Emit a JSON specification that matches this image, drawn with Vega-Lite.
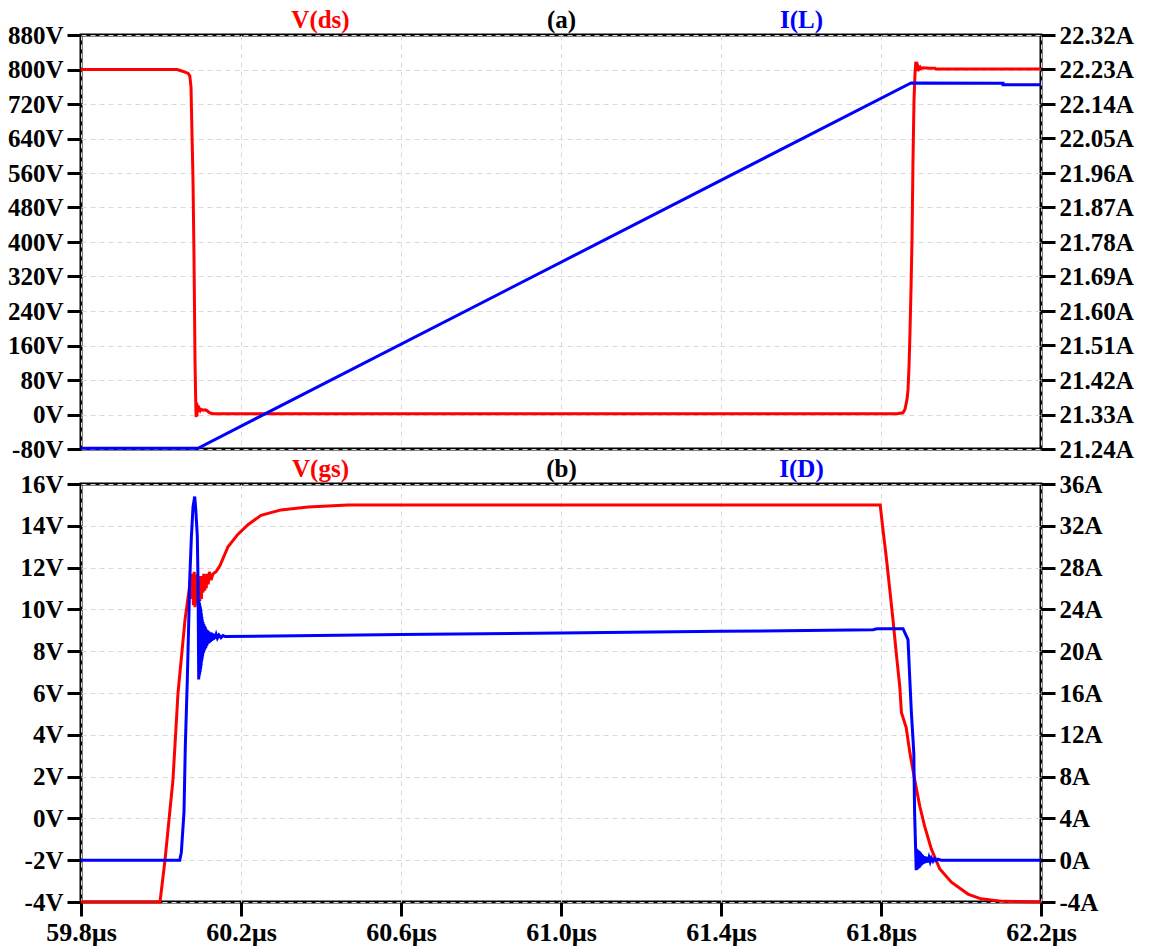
{
  "$schema": "https://vega.github.io/schema/vega-lite/v6.json",
  "padding": {"left": 5, "top": 5, "right": 5, "bottom": 5},
  "background": "white",
  "config": {
    "view": {"stroke": "black", "strokeWidth": 3},
    "font": "Liberation Serif",
    "axis": {
      "labelFont": "Liberation Serif", "labelFontSize": 25, "labelFontWeight": "bold", "labelColor": "black",
      "titleFont": "Liberation Serif", "titleFontSize": 25, "titleFontWeight": "bold",
      "domain": false, "tickColor": "black", "tickWidth": 3, "tickSize": 14, "labelPadding": 4,
      "gridColor": "#d9d9d9", "gridDash": [5, 4], "gridWidth": 1
    },
    "line": {"strokeWidth": 3}
  },
  "datasets": {
    "vds": [
      {"t":59.8,"v":800},{"t":60.04,"v":800},{"t":60.05,"v":797},{"t":60.06,"v":794},{"t":60.068,"v":791},{"t":60.072,"v":785},{"t":60.075,"v":760},{"t":60.0775,"v":650},{"t":60.08,"v":544},{"t":60.0825,"v":365},{"t":60.085,"v":126},{"t":60.0865,"v":45},{"t":60.0875,"v":3},{"t":60.088,"v":-6},{"t":60.0885,"v":20},{"t":60.089,"v":28},{"t":60.0895,"v":8},{"t":60.09,"v":-4},{"t":60.0905,"v":18},{"t":60.091,"v":22},{"t":60.0915,"v":6},{"t":60.092,"v":14},{"t":60.093,"v":9},{"t":60.094,"v":16},{"t":60.095,"v":8},{"t":60.096,"v":13},{"t":60.098,"v":9},{"t":60.1,"v":12},{"t":60.105,"v":10},{"t":60.11,"v":11},{"t":60.115,"v":9},{"t":60.12,"v":5},{"t":60.125,"v":3},{"t":60.13,"v":2},{"t":61.84,"v":2},{"t":61.855,"v":4},{"t":61.86,"v":12},{"t":61.865,"v":35},{"t":61.8675,"v":57},{"t":61.87,"v":110},{"t":61.872,"v":173},{"t":61.875,"v":290},{"t":61.8775,"v":405},{"t":61.88,"v":590},{"t":61.8825,"v":729},{"t":61.885,"v":790},{"t":61.8865,"v":812},{"t":61.8875,"v":818},{"t":61.888,"v":800},{"t":61.8885,"v":814},{"t":61.889,"v":796},{"t":61.8895,"v":810},{"t":61.89,"v":798},{"t":61.891,"v":808},{"t":61.892,"v":800},{"t":61.893,"v":806},{"t":61.895,"v":801},{"t":61.898,"v":805},{"t":61.9,"v":802},{"t":61.905,"v":804},{"t":61.92,"v":803},{"t":61.935,"v":803},{"t":61.937,"v":801},{"t":62.2,"v":801}
    ],
    "il": [
      {"t":59.8,"v":21.242},{"t":60.0925,"v":21.242},{"t":61.875,"v":22.195},{"t":62.105,"v":22.194},{"t":62.105,"v":22.19},{"t":62.2,"v":22.19}
    ],
    "vgs": [
      {"t":59.8,"v":-4},{"t":59.9975,"v":-4},{"t":60.01,"v":-2},{"t":60.03,"v":1.87},{"t":60.0425,"v":6.0},{"t":60.06,"v":9.5},{"t":60.075,"v":11.6},{"t":60.077,"v":10.5},{"t":60.079,"v":11.7},{"t":60.081,"v":10.2},{"t":60.083,"v":11.8},{"t":60.085,"v":10.1},{"t":60.087,"v":11.6},{"t":60.089,"v":10.3},{"t":60.091,"v":11.7},{"t":60.093,"v":10.2},{"t":60.095,"v":11.5},{"t":60.097,"v":10.4},{"t":60.099,"v":11.6},{"t":60.101,"v":10.5},{"t":60.103,"v":11.6},{"t":60.105,"v":10.8},{"t":60.107,"v":11.7},{"t":60.109,"v":10.9},{"t":60.111,"v":11.6},{"t":60.113,"v":11.0},{"t":60.115,"v":11.7},{"t":60.118,"v":11.2},{"t":60.121,"v":11.8},{"t":60.125,"v":11.4},{"t":60.13,"v":11.7},{"t":60.1375,"v":11.8},{"t":60.1475,"v":12.1},{"t":60.1675,"v":13.0},{"t":60.1925,"v":13.6},{"t":60.2175,"v":14.05},{"t":60.25,"v":14.5},{"t":60.3,"v":14.76},{"t":60.3675,"v":14.9},{"t":60.4675,"v":15.0},{"t":61.798,"v":15.0},{"t":61.805,"v":13.8},{"t":61.813,"v":12.53},{"t":61.822,"v":10.94},{"t":61.83,"v":9.5},{"t":61.838,"v":7.93},{"t":61.847,"v":6.3},{"t":61.851,"v":5.07},{"t":61.863,"v":4.35},{"t":61.872,"v":3.16},{"t":61.884,"v":1.87},{"t":61.897,"v":0.58},{"t":61.909,"v":-0.37},{"t":61.926,"v":-1.47},{"t":61.947,"v":-2.42},{"t":61.976,"v":-3.05},{"t":62.0175,"v":-3.62},{"t":62.05,"v":-3.85},{"t":62.105,"v":-3.97},{"t":62.2,"v":-4.0}
    ],
    "id": [
      {"t":59.8,"v":0},{"t":60.0468,"v":0},{"t":60.0508,"v":0.74},{"t":60.0575,"v":4.6},{"t":60.0608,"v":10.9},{"t":60.0658,"v":17.3},{"t":60.0693,"v":22.7},{"t":60.0718,"v":26.8},{"t":60.0758,"v":30.8},{"t":60.08,"v":33.8},{"t":60.0843,"v":34.8},{"t":60.087,"v":33.5},{"t":60.0908,"v":31.0},{"t":60.0925,"v":26.8},{"t":60.0943,"v":17.3},{"t":60.0949,"v":24.9},{"t":60.0955,"v":17.6},{"t":60.0961,"v":24.6},{"t":60.0967,"v":17.8},{"t":60.0973,"v":24.4},{"t":60.0979,"v":18.0},{"t":60.0985,"v":24.2},{"t":60.0991,"v":18.3},{"t":60.0997,"v":24.0},{"t":60.1003,"v":18.6},{"t":60.1009,"v":23.6},{"t":60.1015,"v":19.0},{"t":60.1021,"v":23.3},{"t":60.1027,"v":19.2},{"t":60.1033,"v":23.0},{"t":60.104,"v":19.5},{"t":60.105,"v":22.8},{"t":60.106,"v":19.8},{"t":60.107,"v":22.6},{"t":60.108,"v":20.0},{"t":60.109,"v":22.4},{"t":60.11,"v":20.2},{"t":60.111,"v":22.3},{"t":60.112,"v":20.3},{"t":60.113,"v":22.1},{"t":60.1145,"v":20.5},{"t":60.116,"v":22.0},{"t":60.1175,"v":20.7},{"t":60.119,"v":21.9},{"t":60.1205,"v":20.8},{"t":60.122,"v":21.8},{"t":60.1235,"v":20.9},{"t":60.125,"v":21.8},{"t":60.127,"v":21.0},{"t":60.129,"v":21.7},{"t":60.131,"v":21.1},{"t":60.133,"v":21.65},{"t":60.135,"v":21.2},{"t":60.138,"v":21.6},{"t":60.141,"v":21.25},{"t":60.145,"v":21.55},{"t":60.15,"v":21.3},{"t":60.155,"v":21.5},{"t":60.16,"v":21.4},{"t":60.6,"v":21.6},{"t":61.0,"v":21.75},{"t":61.4,"v":21.9},{"t":61.78,"v":22.05},{"t":61.79,"v":22.15},{"t":61.855,"v":22.15},{"t":61.8675,"v":21.1},{"t":61.872,"v":17.3},{"t":61.876,"v":14.1},{"t":61.882,"v":10.3},{"t":61.884,"v":4.6},{"t":61.888,"v":-0.95},{"t":61.8888,"v":1.1},{"t":61.8896,"v":-0.9},{"t":61.8904,"v":1.0},{"t":61.8912,"v":-0.85},{"t":61.892,"v":0.95},{"t":61.8928,"v":-0.8},{"t":61.8936,"v":0.9},{"t":61.8944,"v":-0.75},{"t":61.8952,"v":0.85},{"t":61.896,"v":-0.7},{"t":61.897,"v":0.8},{"t":61.898,"v":-0.6},{"t":61.899,"v":0.7},{"t":61.9,"v":-0.5},{"t":61.901,"v":0.6},{"t":61.902,"v":-0.45},{"t":61.9035,"v":0.5},{"t":61.905,"v":-0.35},{"t":61.9065,"v":0.4},{"t":61.908,"v":-0.3},{"t":61.91,"v":0.35},{"t":61.912,"v":-0.25},{"t":61.914,"v":0.3},{"t":61.917,"v":-0.2},{"t":61.92,"v":0.25},{"t":61.923,"v":-0.15},{"t":61.926,"v":0.2},{"t":61.93,"v":-0.1},{"t":61.934,"v":0.15},{"t":61.938,"v":-0.05},{"t":61.943,"v":0.1},{"t":61.95,"v":0},{"t":62.2,"v":0}
    ]
  },
  "bounds": "flush",
  "spacing": 35,
  "vconcat": [
    {
      "width": 960,
      "height": 414,
      "layer": [
        {
          "data": {"name": "vds"},
          "mark": {"type": "line", "color": "#ff0000"},
          "encoding": {
            "x": {"field": "t", "type": "quantitative",
              "scale": {"domain": [59.8, 62.2], "nice": false, "zero": false},
              "axis": {"values": [59.8, 60.2, 60.6, 61.0, 61.4, 61.8, 62.2], "labels": false, "ticks": false, "grid": true,
                "title": "(a)", "titleColor": "black", "titleX": 480, "titleY": -422, "titleAngle": 0, "titleAlign": "center", "titleBaseline": "alphabetic"}},
            "y": {"field": "v", "type": "quantitative",
              "scale": {"domain": [-80, 880], "nice": false, "zero": false},
              "axis": {"values": [-80, 0, 80, 160, 240, 320, 400, 480, 560, 640, 720, 800, 880], "labelExpr": "datum.value + 'V'", "grid": true,
                "title": "V(ds)", "titleColor": "#ff0000", "titleX": 239, "titleY": -8, "titleAngle": 0, "titleAlign": "center", "titleBaseline": "alphabetic"}}
          }
        },
        {
          "data": {"name": "il"},
          "mark": {"type": "line", "color": "#0000ff"},
          "encoding": {
            "x": {"field": "t", "type": "quantitative"},
            "y": {"field": "v", "type": "quantitative",
              "scale": {"domain": [21.24, 22.32], "nice": false, "zero": false},
              "axis": {"orient": "right", "values": [21.24, 21.33, 21.42, 21.51, 21.6, 21.69, 21.78, 21.87, 21.96, 22.05, 22.14, 22.23, 22.32], "labelExpr": "format(datum.value, '.2f') + 'A'", "grid": false,
                "title": "I(L)", "titleColor": "#0000ff", "titleX": -240, "titleY": -8, "titleAngle": 0, "titleAlign": "center", "titleBaseline": "alphabetic"}}
          }
        }
      ],
      "resolve": {"scale": {"y": "independent"}}
    },
    {
      "width": 960,
      "height": 418,
      "layer": [
        {
          "data": {"name": "vgs"},
          "mark": {"type": "line", "color": "#ff0000"},
          "encoding": {
            "x": {"field": "t", "type": "quantitative",
              "scale": {"domain": [59.8, 62.2], "nice": false, "zero": false},
              "axis": {"values": [59.8, 60.2, 60.6, 61.0, 61.4, 61.8, 62.2], "labelExpr": "format(datum.value, '.1f') + 'µs'", "grid": true, "labelPadding": 3, "labelFlush": false, "labelFontSize": 26,
                "title": "(b)", "titleColor": "black", "titleX": 480, "titleY": -426, "titleAngle": 0, "titleAlign": "center", "titleBaseline": "alphabetic"}},
            "y": {"field": "v", "type": "quantitative",
              "scale": {"domain": [-4, 16], "nice": false, "zero": false},
              "axis": {"values": [-4, -2, 0, 2, 4, 6, 8, 10, 12, 14, 16], "labelExpr": "datum.value + 'V'", "grid": true,
                "title": "V(gs)", "titleColor": "#ff0000", "titleX": 239, "titleY": -8, "titleAngle": 0, "titleAlign": "center", "titleBaseline": "alphabetic"}}
          }
        },
        {
          "data": {"name": "id"},
          "mark": {"type": "line", "color": "#0000ff"},
          "encoding": {
            "x": {"field": "t", "type": "quantitative"},
            "y": {"field": "v", "type": "quantitative",
              "scale": {"domain": [-4, 36], "nice": false, "zero": false},
              "axis": {"orient": "right", "values": [-4, 0, 4, 8, 12, 16, 20, 24, 28, 32, 36], "labelExpr": "datum.value + 'A'", "grid": false,
                "title": "I(D)", "titleColor": "#0000ff", "titleX": -240, "titleY": -8, "titleAngle": 0, "titleAlign": "center", "titleBaseline": "alphabetic"}}
          }
        }
      ],
      "resolve": {"scale": {"y": "independent"}}
    }
  ]
}
